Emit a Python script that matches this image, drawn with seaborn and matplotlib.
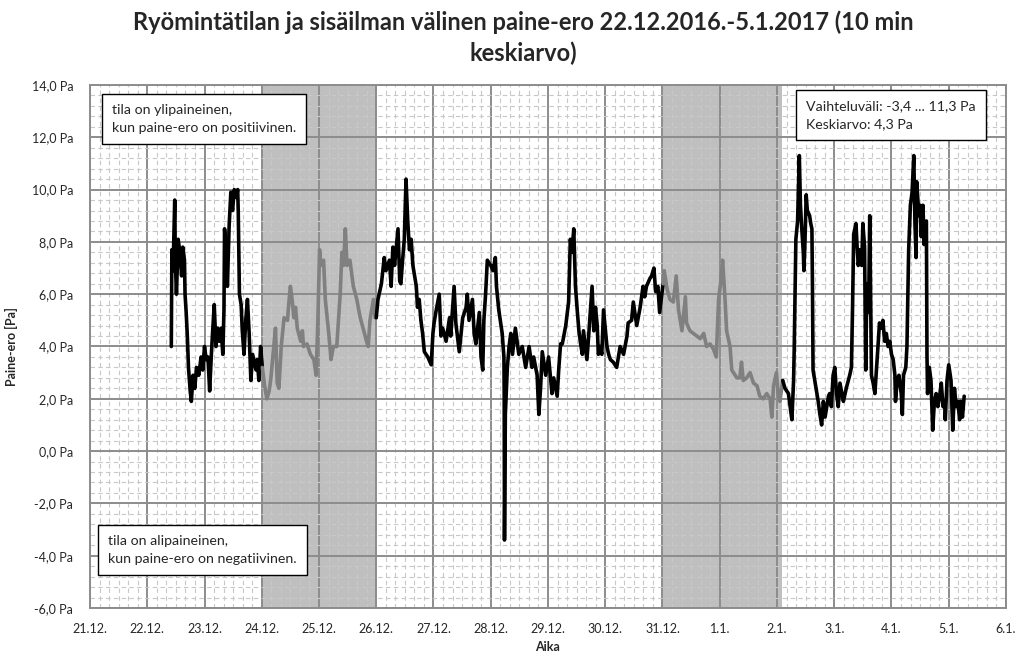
import numpy as np
import pandas as pd
import matplotlib
matplotlib.use("Agg")
import matplotlib.pyplot as plt
import seaborn as sns
from matplotlib.ticker import MultipleLocator, FixedLocator

# ---------------- data (days since 21.12.2016 00:00, pressure difference in Pa) -------------
day_labels = ["21.12.", "22.12.", "23.12.", "24.12.", "25.12.", "26.12.", "27.12.", "28.12.",
              "29.12.", "30.12.", "31.12.", "1.1.", "2.1.", "3.1.", "4.1.", "5.1.", "6.1."]
y_values = [-6, -4, -2, 0, 2, 4, 6, 8, 10, 12, 14]
y_labels = ["-6,0 Pa", "-4,0 Pa", "-2,0 Pa", "0,0 Pa", "2,0 Pa", "4,0 Pa", "6,0 Pa",
            "8,0 Pa", "10,0 Pa", "12,0 Pa", "14,0 Pa"]

time_days = [
    1.42, 1.43, 1.45, 1.48, 1.49, 1.51, 1.54, 1.57, 1.60, 1.62, 1.65, 1.66, 1.68, 1.70, 1.72,
    1.75, 1.77, 1.80, 1.83, 1.86, 1.90, 1.94, 1.97, 2.00, 2.03, 2.06, 2.09, 2.12, 2.14, 2.17,
    2.20, 2.23, 2.26, 2.29, 2.32, 2.34, 2.35, 2.38, 2.40, 2.43, 2.46, 2.49, 2.52, 2.55, 2.58,
    2.59, 2.61, 2.64, 2.66, 2.69, 2.72, 2.75, 2.78, 2.81, 2.84, 2.90, 2.92, 2.95, 2.98,
    3.01, 3.05, 3.09, 3.13, 3.16, 3.21, 3.24, 3.27, 3.30, 3.34, 3.39, 3.45, 3.47, 3.50, 3.53,
    3.56, 3.59, 3.62, 3.68, 3.71, 3.73, 3.79, 3.85, 3.91, 3.95, 3.98, 4.01, 4.03, 4.08, 4.11,
    4.17, 4.21, 4.25, 4.31, 4.37, 4.40, 4.43, 4.46, 4.49, 4.54, 4.60, 4.66, 4.72, 4.77, 4.83,
    4.86, 4.89, 4.95, 4.98,
    5.00, 5.03, 5.09, 5.14, 5.17, 5.23, 5.26, 5.29, 5.32, 5.38, 5.41, 5.43, 5.46, 5.49, 5.52,
    5.55, 5.58, 5.61, 5.64, 5.70, 5.72, 5.75, 5.78, 5.81, 5.84, 5.90, 5.96, 5.99, 6.01, 6.04,
    6.10, 6.13, 6.16, 6.22, 6.28, 6.30, 6.36, 6.39, 6.45, 6.51, 6.57, 6.59, 6.62, 6.68, 6.71,
    6.74, 6.80, 6.83, 6.86, 6.88, 6.91, 6.94, 7.00, 7.04, 7.08, 7.10, 7.14, 7.20, 7.23, 7.235,
    7.24, 7.255, 7.29, 7.32, 7.35, 7.38, 7.43, 7.49, 7.55, 7.61, 7.67, 7.72, 7.75, 7.81, 7.84,
    7.87, 7.90, 7.96, 8.01, 8.07, 8.10, 8.16, 8.19, 8.22,
    8.25, 8.31, 8.36, 8.39, 8.42, 8.45, 8.48, 8.51, 8.54, 8.57, 8.60, 8.62, 8.68, 8.71, 8.77,
    8.80, 8.83, 8.86, 8.88, 8.91, 8.94, 8.97, 9.03, 9.06, 9.09, 9.14, 9.20, 9.26, 9.32, 9.38,
    9.40, 9.46, 9.49, 9.55, 9.61, 9.66, 9.69, 9.72, 9.78, 9.81, 9.85, 9.88, 9.92, 9.95,
    10.01, 10.03, 10.08, 10.13, 10.19, 10.24, 10.28, 10.34, 10.40, 10.42, 10.48, 10.54, 10.60,
    10.66, 10.72, 10.77, 10.83, 10.89, 10.94, 10.98, 11.02, 11.05, 11.09, 11.12, 11.18, 11.21,
    11.24, 11.30, 11.35, 11.38, 11.41, 11.47, 11.53, 11.59, 11.65, 11.70, 11.76, 11.82, 11.88,
    11.91, 11.94, 11.99, 12.02, 12.05,
    12.10, 12.14, 12.20, 12.23, 12.26, 12.29, 12.30, 12.33, 12.36, 12.39, 12.41, 12.43, 12.46,
    12.47, 12.49, 12.51, 12.53, 12.57, 12.59, 12.61, 12.62, 12.63, 12.66, 12.72, 12.75, 12.78,
    12.81, 12.84, 12.87, 12.90, 12.92, 12.95, 12.98, 13.01, 13.04, 13.07, 13.10, 13.16, 13.19,
    13.21, 13.27, 13.30, 13.32, 13.34, 13.38, 13.40, 13.42, 13.45, 13.48, 13.50, 13.53, 13.55,
    13.57, 13.60, 13.62, 13.64, 13.65, 13.68, 13.71, 13.74, 13.77, 13.79, 13.82, 13.85, 13.88,
    13.91, 13.94, 13.97, 14.00, 14.03, 14.06, 14.07, 14.10, 14.13, 14.17, 14.19, 14.21, 14.25,
    14.27, 14.30, 14.33, 14.36, 14.39, 14.41, 14.43, 14.44, 14.48, 14.50, 14.52, 14.55, 14.57,
    14.59, 14.61, 14.62, 14.63, 14.66, 14.69, 14.72, 14.75, 14.78, 14.81, 14.84, 14.87, 14.90,
    14.93, 14.94, 14.97, 15.00, 15.04, 15.07, 15.10, 15.13, 15.16, 15.19, 15.21, 15.24, 15.27,
]

pressure_pa = [
    4.0, 7.7, 6.9, 9.6, 7.3, 6.0, 8.1, 7.6, 6.7, 7.8, 7.3, 6.0, 5.3, 4.4, 3.2,
    2.3, 1.9, 2.9, 2.4, 3.2, 2.9, 3.6, 3.1, 4.0, 3.5, 3.6, 2.3, 3.7, 4.5, 5.6,
    4.0, 4.7, 4.2, 4.7, 3.7, 5.4, 8.5, 7.7, 6.3, 8.6, 9.9, 9.2, 10.0, 9.7, 10.0,
    9.1, 6.0, 5.6, 4.6, 3.7, 5.0, 5.8, 4.5, 2.7, 3.7, 3.1, 3.5, 2.7, 4.0,
    3.2, 2.5, 2.0, 2.3, 2.8, 4.0, 4.7, 2.6, 2.4, 4.0, 5.1, 5.0, 5.6, 6.3, 5.8,
    5.1, 5.5, 4.7, 4.2, 4.6, 4.0, 4.1, 3.7, 3.5, 2.9, 5.0, 7.7, 7.1, 7.3, 5.8,
    4.5, 3.5, 4.0, 4.0, 6.0, 7.6, 7.1, 8.5, 7.1, 7.3, 6.3, 5.8, 5.1, 4.7, 4.2,
    4.0, 5.0, 5.8, 5.1,
    5.1, 5.8, 6.4, 7.4, 6.9, 7.3, 6.3, 7.8, 7.1, 8.5, 6.5, 6.4, 7.3, 8.1, 10.4,
    8.8, 7.7, 8.1, 7.1, 6.3, 5.5, 5.8, 5.0, 4.5, 3.8, 3.6, 3.3, 4.5, 4.9, 5.3,
    6.0, 4.4, 4.7, 4.2, 5.1, 4.4, 6.3, 4.9, 3.8, 5.1, 5.5, 6.0, 5.0, 5.8, 4.5,
    4.1, 5.3, 3.6, 3.1, 5.0, 6.0, 7.3, 7.1, 6.9, 7.4, 6.3, 5.4, 4.5, 3.6, 2.2,
    -3.4, 1.4, 3.2, 4.0, 4.5, 3.7, 4.7, 3.7, 4.0, 3.2, 4.0, 3.2, 3.6, 2.9, 1.4,
    2.4, 3.8, 2.9, 3.6, 2.2, 2.8, 2.1, 3.2, 4.1,
    4.1, 4.8, 5.7, 8.1, 7.6, 8.5, 6.3, 5.4, 4.6, 4.1, 3.7, 4.6, 3.5, 4.4, 6.3,
    4.6, 5.5, 4.8, 3.7, 4.0, 3.7, 5.4, 4.0, 3.7, 3.5, 3.4, 3.2, 4.0, 3.7, 4.4,
    4.9, 5.0, 5.7, 4.8, 5.5, 6.3, 5.9, 6.3, 6.6, 6.7, 7.0, 6.1, 6.3, 5.3,
    6.4, 6.9, 6.2, 5.8, 5.7, 6.7, 5.4, 4.6, 5.9, 4.9, 4.6, 4.5, 4.4,
    4.3, 4.5, 4.0, 4.1, 3.9, 3.6, 5.8, 6.5, 7.3, 5.9, 4.6, 4.0, 3.1,
    3.0, 2.8, 2.8, 3.4, 2.7, 2.8, 3.0, 2.6, 2.5, 2.1, 2.0, 2.2, 2.0,
    1.3, 2.5, 3.0, 2.2, 1.9,
    2.7, 2.4, 2.2, 1.7, 1.2, 2.7, 3.8, 8.1, 8.8, 11.3, 9.4, 8.6, 7.6,
    6.9, 8.1, 9.8, 9.2, 9.0, 8.7, 8.5, 6.2, 3.1, 2.7, 1.9, 1.4, 1.0,
    1.9, 1.3, 1.7, 2.1, 2.2, 1.7, 2.9, 3.2, 2.2, 1.7, 2.6, 1.9, 2.2,
    2.4, 2.9, 3.2, 5.5, 8.3, 8.7, 7.8, 7.1, 7.7, 7.1, 8.7, 7.8, 3.1,
    6.4, 5.3, 9.0, 5.0, 2.9, 2.6, 2.2, 3.2, 4.2, 4.9, 4.7, 5.0, 4.2,
    4.5, 4.0, 4.2, 3.7, 3.5, 2.9, 1.9, 2.7, 2.9, 2.2, 1.4, 2.9, 3.2,
    4.0, 7.7, 9.4, 9.9, 11.3, 8.7, 7.4, 10.3, 9.0, 9.4, 8.2, 9.4, 7.9,
    8.7, 8.8, 3.7, 2.2, 3.2, 2.7, 0.8, 1.9, 2.2, 1.7, 2.1, 2.6, 1.7,
    1.9, 1.2, 2.7, 3.3, 2.7, 0.8, 2.4, 1.7, 1.9, 1.2, 1.9, 1.3, 2.1,
]

holiday_periods = [(3.0, 5.0), (10.0, 12.08)]

title = "Ryömintätilan ja sisäilman välinen paine-ero 22.12.2016.-5.1.2017 (10 min\nkeskiarvo)"
note_pos = "tila on ylipaineinen,\nkun paine-ero on positiivinen."
note_neg = "tila on alipaineinen,\nkun paine-ero on negatiivinen."
note_stats = "Vaihteluväli: -3,4 ... 11,3 Pa\nKeskiarvo: 4,3 Pa"

# ---------------- figure ----------------
sns.set_style("white")
plt.rcParams["font.family"] = ["Lato", "DejaVu Sans"]

fig = plt.figure(figsize=(10.24, 6.65), dpi=100)
ax = fig.add_axes([0.0879, 0.0857, 0.8945, 0.7865])

df = pd.DataFrame({"t": time_days, "p": pressure_pa})
df["shaded"] = [any(a <= t < b for a, b in holiday_periods) for t in df["t"]]
df["run"] = (df["shaded"] != df["shaded"].shift()).cumsum()

runs = list(df.groupby("run"))
for i, (rid, g) in enumerate(runs):
    seg = g
    if i + 1 < len(runs):
        seg = pd.concat([g, runs[i + 1][1].iloc[:1]])
    color = "#808080" if g["shaded"].iloc[0] else "#000000"
    sns.lineplot(data=seg, x="t", y="p", color=color, linewidth=2.6,
                 estimator=None, sort=False, ax=ax, zorder=3)

for a, b in holiday_periods:
    ax.axvspan(a, b, color="#BFBFBF", zorder=0.2, lw=0)

ax.set_xlim(0, 16)
ax.set_ylim(-6, 14)
ax.xaxis.set_major_locator(FixedLocator(range(len(day_labels))))
ax.set_xticklabels(day_labels)
ax.xaxis.set_minor_locator(MultipleLocator(1 / 6))
ax.yaxis.set_major_locator(FixedLocator(y_values))
ax.set_yticklabels(y_labels)
ax.yaxis.set_minor_locator(MultipleLocator(0.4))

ax.set_axisbelow(True)
ax.grid(which="major", color="#8c8c8c", linewidth=1.4, linestyle="-")
ax.grid(which="minor", color="#c8c8c8", linewidth=0.8, linestyle=(0, (4, 3)))
ax.tick_params(which="both", length=0, labelsize=9, colors="#262626")
ax.tick_params(axis="y", pad=12)
ax.tick_params(axis="x", pad=11)
for s in ax.spines.values():
    s.set_color("#8c8c8c")
    s.set_linewidth(1.4)

ax.set_xlabel("Aika", fontsize=9, fontweight="bold", labelpad=4)
ax.set_ylabel("Paine-ero [Pa]", fontsize=9, fontweight="bold", labelpad=10)

fig.text(0.511, 0.985, title, ha="center", va="top", fontsize=17, fontweight="bold",
         linespacing=1.42)

box = dict(boxstyle="square,pad=0.7", fc="white", ec="black", lw=1)
ax.text(0.024, 0.964, note_pos, transform=ax.transAxes, ha="left", va="top",
        fontsize=10.2, linespacing=1.6, bbox=box, zorder=5)
ax.text(0.0197, 0.139, note_neg, transform=ax.transAxes, ha="left", va="top",
        fontsize=10.2, linespacing=1.6, bbox=box, zorder=5)
ax.text(0.782, 0.971, note_stats, transform=ax.transAxes, ha="left", va="top",
        fontsize=10.2, linespacing=1.6, bbox=box, zorder=5)

fig.savefig("out.png", dpi=100)
